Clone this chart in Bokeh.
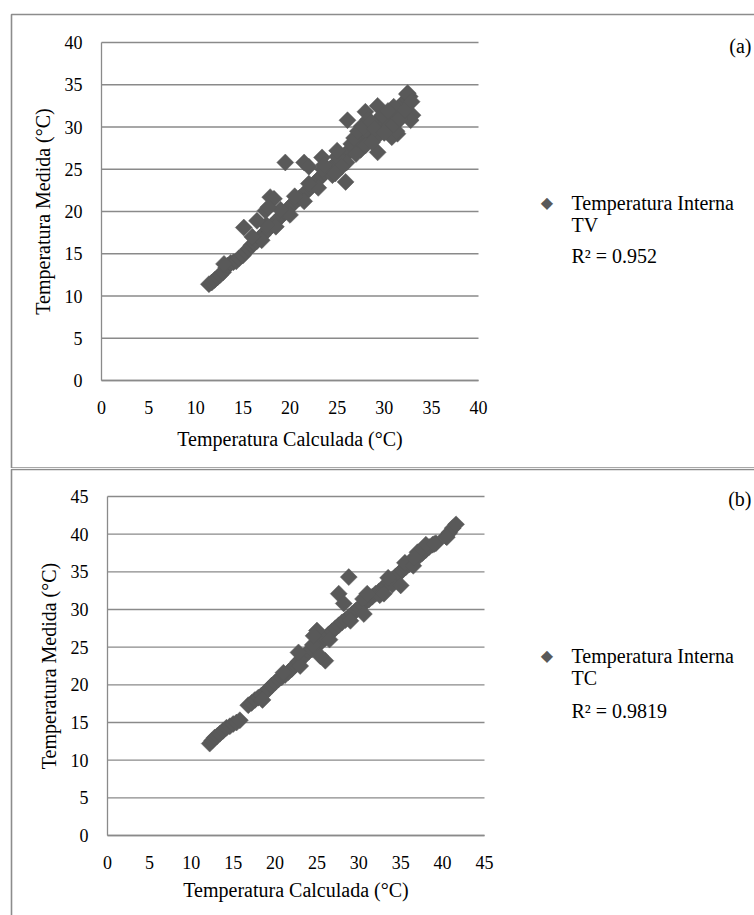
from bokeh.plotting import figure
from bokeh.layouts import column
from bokeh.models import (Range1d, FixedTicker, BoxAnnotation, Label, ColumnDataSource,
                          LinearAxis)
from bokeh.embed import file_html
from bokeh.resources import INLINE

# ---------------- data ----------------
# Panel (a): Temperatura Interna TV
tv_calc = [11.4, 11.7, 12.0, 12.3, 12.6, 12.9, 13.2, 13.4, 13.7, 14.0, 14.3, 14.6, 15.0, 15.3,
           15.6, 15.9, 16.2, 16.5, 16.8, 17.1, 17.4, 17.7, 18.0, 18.3, 18.6, 18.9, 19.2, 19.5,
           19.8, 20.1, 20.4, 20.7, 21.0, 21.3, 21.6, 21.9, 22.2, 22.5, 22.8, 23.1, 23.4, 23.7,
           24.0, 24.3, 24.6, 24.9, 25.2, 25.5, 25.8, 26.1, 26.4, 26.7, 27.0, 27.3, 27.6, 27.9,
           28.2, 28.5, 28.8, 29.1, 29.4, 29.7, 30.0, 30.3, 30.6, 30.9, 31.2, 31.5, 31.8, 32.1,
           32.4, 32.7,
           17.0, 18.5, 20.0, 21.5, 23.0, 24.5, 26.0, 27.5, 29.0, 30.5, 31.5, 32.0,
           16.0, 17.5, 19.0, 20.5, 22.0, 23.5, 25.0, 26.5, 28.0, 29.5, 31.0, 32.5,
           15.1, 16.5, 17.4, 17.9, 18.3, 19.5, 21.5, 22.0, 23.4, 25.0, 25.9, 26.1, 28.0, 29.3,
           29.3, 32.4, 33.0, 31.4, 32.8, 30.8, 28.3, 27.6, 31.3,
           26.8, 27.2, 27.8, 28.6, 29.0, 29.8, 30.4, 30.0, 31.0, 31.6, 32.2, 32.9, 27.0, 28.0,
           28.7, 25.5, 24.8, 13.0, 23.6, 17.7]
tv_med = [11.4, 11.6, 11.9, 12.2, 12.5, 12.8, 13.3, 13.6, 13.9, 14.0, 14.1, 14.5, 14.8, 15.2,
          15.6, 16.0, 16.2, 16.5, 16.9, 17.2, 17.6, 17.9, 18.3, 18.6, 18.9, 19.3, 19.6, 19.9,
          20.3, 20.7, 21.0, 21.3, 21.6, 21.9, 22.2, 22.5, 22.9, 23.2, 23.6, 23.9, 24.2, 24.6,
          24.9, 25.1, 25.4, 25.7, 26.0, 26.3, 26.7, 27.0, 27.2, 27.6, 27.9, 28.2, 28.6, 28.9,
          29.2, 29.5, 29.8, 30.1, 30.3, 30.5, 30.8, 31.0, 31.3, 31.6, 31.9, 32.3, 32.6, 32.9,
          33.3, 33.6,
          16.6, 18.2, 19.6, 21.2, 22.8, 24.3, 25.8, 27.3, 28.6, 30.1, 30.7, 31.6,
          17.0, 18.4, 20.2, 21.8, 23.3, 25.0, 26.5, 28.0, 29.6, 31.0, 32.4, 34.0,
          18.1, 18.9, 20.1, 21.7, 21.5, 25.8, 25.8, 25.3, 26.4, 27.2, 23.5, 30.8, 31.8, 32.5,
          27.0, 33.9, 31.4, 29.2, 30.8, 28.8, 30.9, 30.1, 29.5,
          28.7, 29.5, 30.0, 30.6, 29.8, 31.4, 31.9, 29.3, 30.3, 31.0, 32.0, 33.0, 26.8, 27.8,
          28.2, 25.3, 24.5, 13.8, 25.5, 20.5]

# Panel (b): Temperatura Interna TC
tc_calc = [12.2, 12.5, 12.8, 13.1, 13.4, 13.8, 14.2, 14.6, 15.0, 15.4, 15.8, 16.8, 17.2, 17.6,
           18.0, 18.4, 18.8, 19.2, 19.6, 20.0, 20.4, 20.8, 21.2, 21.6, 22.0, 22.4, 22.8, 23.2,
           23.6, 24.0, 24.4, 24.8, 25.2, 25.6, 26.0, 26.4, 26.8, 27.2, 27.6, 28.0, 28.4, 28.8,
           29.2, 29.6, 30.0, 30.4, 30.8, 31.2, 31.6, 32.0, 32.4, 32.8, 33.2, 33.6, 34.0, 34.4,
           34.8, 35.2, 35.6, 36.0, 36.4, 36.8, 37.2, 37.6, 38.0, 38.4, 38.8, 39.2, 40.4, 40.8,
           41.2, 41.6,
           18.5, 21.0, 23.0, 24.5, 26.5, 29.0, 30.5, 32.5, 34.0, 35.5, 36.5, 38.0, 37.0, 33.5,
           25.0, 24.6, 26.0, 25.4, 27.6, 28.2, 28.8, 30.6, 31.0, 33.0, 35.0, 36.6, 39.0, 40.5,
           22.8]
tc_med = [12.2, 12.6, 13.0, 13.2, 13.5, 13.9, 14.3, 14.5, 14.8, 15.0, 15.3, 17.3, 17.6, 18.0,
          18.3, 18.6, 19.0, 19.4, 19.9, 20.3, 20.7, 21.0, 21.3, 21.7, 22.1, 22.6, 23.1, 23.5,
          24.0, 24.4, 24.7, 25.0, 25.4, 25.8, 26.2, 26.7, 27.1, 27.5, 27.9, 28.3, 28.6, 29.0,
          29.4, 29.8, 30.2, 30.6, 31.0, 31.3, 31.7, 32.1, 32.4, 32.8, 33.2, 33.6, 34.0, 34.4,
          34.8, 35.2, 35.6, 36.0, 36.4, 36.8, 37.1, 37.5, 37.9, 38.3, 38.6, 38.8, 39.7, 40.2,
          40.8, 41.3,
          18.0, 21.6, 22.5, 25.3, 26.0, 28.5, 31.4, 31.9, 33.3, 36.2, 35.8, 38.6, 37.6, 34.2,
          27.2, 26.5, 23.2, 23.8, 32.1, 30.8, 34.3, 29.4, 32.1, 32.1, 33.2, 36.9, 38.7, 39.6,
          24.3]

ticks_a = [0, 5, 10, 15, 20, 25, 30, 35, 40]
ticks_b = [0, 5, 10, 15, 20, 25, 30, 35, 40, 45]

x_title = "Temperatura Calculada (°C)"
y_title = "Temperatura Medida (°C)"
series_a = "Temperatura Interna"
suffix_a = "TV"
r2_a = "R² = 0.952"
series_b = "Temperatura Interna"
suffix_b = "TC"
r2_b = "R² = 0.9819"

# ---------------- styling ----------------
FONT = "Liberation Serif"
GRID = "#8a8a8a"
MARK = "#595959"
BORDER = "#8c8c8c"
W = 754


def panel(xs, ys, ticks, frame, height, name, suffix, r2, tag, rows, tag_row, box_tb,
          x_lab_std, x_title_std):
    # frame = pixel box (left, right, top, bottom) of the data area inside the canvas
    left, right, top, bottom = frame
    vmax = ticks[-1]
    kx = (right - left) / vmax
    ky = (bottom - top) / vmax
    xr = Range1d(-left / kx, (W - left) / kx)
    yr = Range1d(-(height - bottom) / ky, bottom / ky)
    p = figure(width=W, height=height, output_backend="svg", toolbar_location=None,
               x_range=xr, y_range=yr, min_border=0,
               x_axis_location=None, y_axis_location=None)
    p.outline_line_color = None
    p.background_fill_color = "white"
    p.border_fill_color = "white"
    for g in p.grid:
        g.visible = False

    # horizontal gridlines spanning only the plotting area
    gsrc = ColumnDataSource(dict(x0=[0] * len(ticks), x1=[vmax] * len(ticks),
                                 y=ticks))
    p.segment(x0="x0", x1="x1", y0="y", y1="y", source=gsrc,
              line_color=GRID, line_width=1.3)

    xa = LinearAxis(fixed_location=0, bounds=(0, vmax))
    ya = LinearAxis(fixed_location=0, bounds=(0, vmax))
    for ax in (xa, ya):
        ax.ticker = FixedTicker(ticks=ticks)
        ax.axis_line_color = GRID
        ax.axis_line_width = 1.3
        ax.major_tick_line_color = None
        ax.minor_tick_line_color = None
        ax.major_tick_out = 0
        ax.major_tick_in = 0
        ax.minor_tick_out = 0
        ax.minor_tick_in = 0
        ax.major_label_text_font = FONT
        ax.major_label_text_font_size = "18px"
        ax.major_label_text_color = "black"
        ax.axis_label_text_font = FONT
        ax.axis_label_text_font_size = "20px"
        ax.axis_label_text_font_style = "normal"
        ax.axis_label_text_color = "black"
    xa.axis_label = x_title
    ya.axis_label = y_title
    xa.major_label_standoff = x_lab_std
    xa.axis_label_standoff = x_title_std
    ya.major_label_standoff = 19
    ya.axis_label_standoff = 8
    p.add_layout(xa, "below")
    p.add_layout(ya, "left")

    src = ColumnDataSource(dict(x=xs, y=ys))
    p.scatter("x", "y", source=src, marker="square", size=12, angle=0.785398,
              fill_color=MARK, line_color=MARK, line_width=0.5)

    # outer panel border (canvas units)
    p.add_layout(BoxAnnotation(left=11, right=W + 20, top=box_tb[0], bottom=box_tb[1],
                               left_units="canvas", right_units="canvas",
                               top_units="canvas", bottom_units="canvas",
                               fill_color=None, fill_alpha=0,
                               line_color=BORDER, line_alpha=1.0, line_width=1.6))

    def lab(text, px, py, size="20px", font=FONT, color="black", align="left"):
        p.add_layout(Label(x=px, y=height - py, x_units="screen", y_units="screen",
                           text=text, text_font=font, text_font_size=size,
                           text_color=color, text_baseline="middle", text_align=align))

    r1, r2y, r3 = rows
    lab("◆", 546.5, r1, size="16px", font="DejaVu Sans", color=MARK, align="center")
    lab(name, 571, r1)
    lab(suffix, 571, r2y)
    lab(r2, 571, r3)
    lab(tag, 751, tag_row, align="right")
    return p


pa = panel(tv_calc, tv_med, ticks_a, (101, 478, 42, 380), 468, series_a, suffix_a, r2_a,
           "(a)", (202, 224, 255), 45, (14, 467.5), 20, 11)
pb = panel(tc_calc, tc_med, ticks_b, (107, 484, 28, 367), 447, series_b, suffix_b, r2_b,
           "(b)", (187, 209, 242), 30, (1, 470), 20, 7)

layout = column(pa, pb, spacing=0)
open("out.html", "w").write(file_html(layout, INLINE))
